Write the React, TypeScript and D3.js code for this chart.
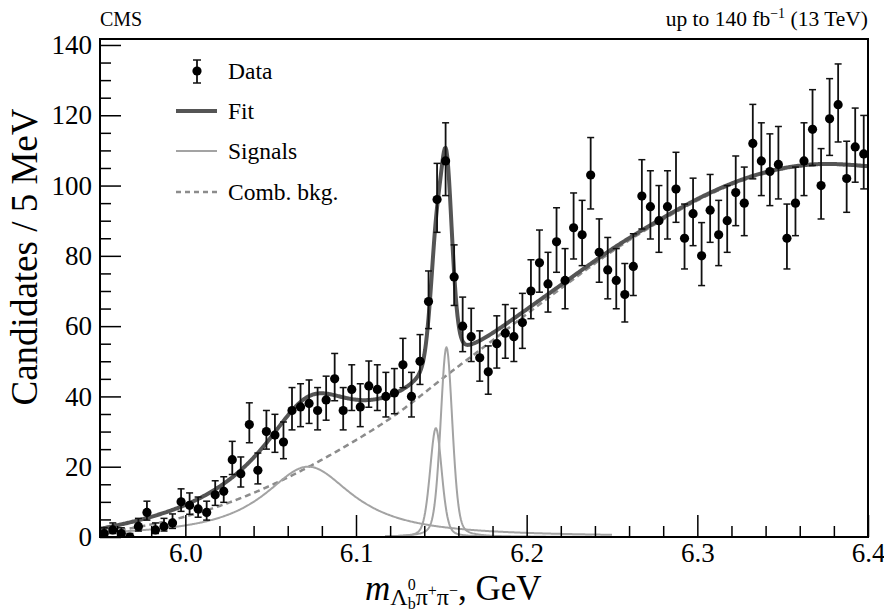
import React, { useEffect, useRef } from "react";
import * as d3 from "d3";

// histogram: 5 MeV bins starting at 5.95 GeV
const binStart = 5.95;
const binWidth = 0.005;
const counts = [
  1, 2, 1, 0, 3, 7, 2, 3, 4, 10, 9, 8, 7, 12, 13, 22, 18, 32, 19, 30, 29, 27, 36, 37, 38, 36, 39, 45, 36,
  42, 37, 43, 42, 40, 41, 49, 40, 50, 67, 96, 107, 74, 60, 57, 51, 47, 55, 58, 57, 61, 70, 78, 72, 84, 73, 88, 86, 103, 81,
  76, 73, 69, 77, 97, 94, 90, 94, 99, 85, 92, 80, 93, 86, 90, 98, 95, 112, 107, 104, 106, 85, 95, 107, 116, 100, 119, 123, 102, 111, 109,
];

// combinatorial background, read at knots every 25 MeV
const bkgMass = [5.95, 5.975, 6.0, 6.025, 6.05, 6.075, 6.1, 6.125, 6.15, 6.175, 6.2, 6.225, 6.25, 6.275, 6.3, 6.325, 6.35, 6.375, 6.4];
const bkgValue = [1.0, 3.0, 5.6, 9.5, 14.5, 20.5, 27.5, 35, 45, 54, 63.5, 72.5, 81.5, 89, 96, 101.5, 105, 106.3, 105.3];

// signal components
const sigMass = [6.072, 6.1468, 6.153];
const sigHeight = [20, 31, 54];
const sigSigma = [0, 0.0035, 0.0035];
const sigGamma = [0.032, 0.004, 0.004];
const sigLorentzFrac = [1, 0.3, 0.3];
const sigFrom = [5.95, 6.117, 6.117];
const sigTo = [6.25, 6.25, 6.25];

const xMajor = [6.0, 6.1, 6.2, 6.3, 6.4];
const yMajor = [0, 20, 40, 60, 80, 100, 120, 140];

const legendLabels = ["Data", "Fit", "Signals", "Comb. bkg."];

const FONT = "'Liberation Serif', 'Times New Roman', serif";

export default function App() {
  const ref = useRef<SVGSVGElement>(null);

  useEffect(() => {
    const width = 884;
    const height = 614;
    const margin = { top: 39, right: 16, bottom: 77, left: 100 };
    const svg = d3.select(ref.current).attr("width", width).attr("height", height);
    svg.selectAll("*").remove();

    const x = d3.scaleLinear().domain([5.95, 6.4]).range([margin.left, width - margin.right]);
    const y = d3.scaleLinear().domain([0, 141.7]).range([height - margin.bottom, margin.top]);

    const bkgInterp = d3.interpolateBasis(bkgValue);
    const bkg = (m: number) =>
      bkgInterp((m - bkgMass[0]) / (bkgMass[bkgMass.length - 1] - bkgMass[0]));
    const shape = (m: number, k: number) => {
      const d = m - sigMass[k];
      const g = sigSigma[k] > 0 ? Math.exp((-d * d) / (2 * sigSigma[k] * sigSigma[k])) : 0;
      const l = 1 / (1 + (d / sigGamma[k]) ** 2);
      const f = sigLorentzFrac[k];
      return sigHeight[k] * ((1 - f) * g + f * l);
    };
    const grid = (a: number, b: number) =>
      d3.range(0, Math.round((b - a) / 0.0005) + 1).map((i) => a + i * 0.0005);

    const line = d3
      .line<[number, number]>()
      .x((d) => x(d[0]))
      .y((d) => y(d[1]));

    svg.append("rect").attr("width", width).attr("height", height).attr("fill", "#fff");

    svg
      .append("clipPath")
      .attr("id", "plot")
      .append("rect")
      .attr("x", margin.left)
      .attr("y", margin.top)
      .attr("width", width - margin.left - margin.right)
      .attr("height", height - margin.top - margin.bottom);

    const plot = svg.append("g").attr("clip-path", "url(#plot)");

    // background (dashed)
    plot
      .append("path")
      .attr("d", line(grid(5.95, 6.4).map((m) => [m, bkg(m)])))
      .attr("fill", "none")
      .attr("stroke", "#8c8c8c")
      .attr("stroke-width", 2.5)
      .attr("stroke-dasharray", "6,4");

    // signals
    sigMass.forEach((_, k) => {
      plot
        .append("path")
        .attr("d", line(grid(sigFrom[k], sigTo[k]).map((m) => [m, shape(m, k)])))
        .attr("fill", "none")
        .attr("stroke", "#a3a3a3")
        .attr("stroke-width", 2)
        .attr("stroke-linejoin", "round");
    });

    // total fit
    plot
      .append("path")
      .attr(
        "d",
        line(
          grid(5.95, 6.4).map((m) => [m, bkg(m) + sigMass.reduce((s, _, k) => s + shape(m, k), 0)])
        )
      )
      .attr("fill", "none")
      .attr("stroke", "#555")
      .attr("stroke-width", 4)
      .attr("stroke-linejoin", "round");

    // data
    const pts = counts.map((n, i) => ({
      m: binStart + (i + 0.5) * binWidth,
      n,
      lo: Math.max(0, n - Math.sqrt(n + 0.25) + 0.5),
      hi: n + Math.sqrt(n + 0.25) + 0.5,
    }));
    const dg = plot.append("g");
    dg.selectAll(".eb")
      .data(pts)
      .join("line")
      .attr("x1", (d) => x(d.m))
      .attr("x2", (d) => x(d.m))
      .attr("y1", (d) => y(d.lo))
      .attr("y2", (d) => y(d.hi))
      .attr("stroke", "#111")
      .attr("stroke-width", 1.8);
    ["lo", "hi"].forEach((key) => {
      dg.selectAll(".cap-" + key)
        .data(pts)
        .join("line")
        .attr("x1", (d) => x(d.m) - 3.5)
        .attr("x2", (d) => x(d.m) + 3.5)
        .attr("y1", (d) => y((d as any)[key]))
        .attr("y2", (d) => y((d as any)[key]))
        .attr("stroke", "#111")
        .attr("stroke-width", 1.5);
    });
    dg.selectAll("circle")
      .data(pts)
      .join("circle")
      .attr("cx", (d) => x(d.m))
      .attr("cy", (d) => y(d.n))
      .attr("r", 4.6)
      .attr("fill", "#000");

    // axes
    const yAxis = svg
      .append("g")
      .attr("transform", `translate(${margin.left},0)`)
      .call(d3.axisLeft(y).tickValues(yMajor).tickSize(-21).tickPadding(8).tickFormat(d3.format("d")));
    svg
      .append("g")
      .attr("transform", `translate(${margin.left},0)`)
      .call(
        d3
          .axisLeft(y)
          .tickValues(d3.range(5, 141, 5).filter((v) => v % 20 !== 0))
          .tickSize(-11)
          .tickFormat(() => "")
      );
    const xAxis = svg
      .append("g")
      .attr("transform", `translate(0,${height - margin.bottom})`)
      .call(d3.axisBottom(x).tickValues(xMajor).tickSize(-22).tickPadding(6).tickFormat(d3.format(".1f")));
    svg
      .append("g")
      .attr("transform", `translate(0,${height - margin.bottom})`)
      .call(
        d3
          .axisBottom(x)
          .tickValues(d3.range(5.96, 6.4, 0.02).filter((v) => Math.abs(v * 10 - Math.round(v * 10)) > 0.01))
          .tickSize(-11)
          .tickFormat(() => "")
      );
    svg.selectAll(".domain").remove();
    svg.selectAll(".tick line").attr("stroke", "#000").attr("stroke-width", 1.5);
    [yAxis, xAxis].forEach((a) =>
      a.selectAll("text").attr("font-family", FONT).attr("font-size", 27).attr("fill", "#000")
    );

    // frame
    svg
      .append("rect")
      .attr("x", margin.left)
      .attr("y", margin.top)
      .attr("width", width - margin.left - margin.right)
      .attr("height", height - margin.top - margin.bottom)
      .attr("fill", "none")
      .attr("stroke", "#000")
      .attr("stroke-width", 2);

    // titles
    svg
      .append("text")
      .attr("transform", `translate(37, 257) rotate(-90)`)
      .attr("text-anchor", "middle")
      .attr("font-family", FONT)
      .attr("font-size", 37)
      .text("Candidates / 5 MeV");

    const xt = svg
      .append("text")
      .attr("x", 365)
      .attr("y", 600)
      .attr("font-family", FONT)
      .attr("font-size", 35);
    xt.append("tspan").attr("font-style", "italic").text("m");
    xt.append("tspan").attr("font-size", 24).attr("dy", 5).text("Λ");
    xt.append("tspan").attr("font-size", 16).attr("dy", 4).text("b");
    xt.append("tspan").attr("font-size", 16).attr("dx", -8).attr("dy", -19).text("0");
    xt.append("tspan").attr("font-size", 24).attr("dy", 15).text("π");
    xt.append("tspan").attr("font-size", 16).attr("dy", -9).text("+");
    xt.append("tspan").attr("font-size", 24).attr("dy", 9).text("π");
    xt.append("tspan").attr("font-size", 16).attr("dy", -9).text("−");
    xt.append("tspan").attr("dy", 4).text(", GeV");

    svg
      .append("text")
      .attr("x", margin.left)
      .attr("y", 26)
      .attr("font-family", FONT)
      .attr("font-size", 20)
      .text("CMS");

    const lumi = svg
      .append("text")
      .attr("x", width - margin.right)
      .attr("y", 26)
      .attr("text-anchor", "end")
      .attr("font-family", FONT)
      .attr("font-size", 21.5);
    lumi.append("tspan").text("up to 140 fb");
    lumi.append("tspan").attr("font-size", 14).attr("dy", -8).text("−1");
    lumi.append("tspan").attr("dy", 8).text(" (13 TeV)");

    // legend
    const lg = svg.append("g");
    const rows = [71, 111, 151, 192];
    lg.append("line").attr("x1", 197).attr("x2", 197).attr("y1", 60).attr("y2", 83).attr("stroke", "#111").attr("stroke-width", 1.8);
    [60, 83].forEach((yy) =>
      lg.append("line").attr("x1", 193).attr("x2", 201).attr("y1", yy).attr("y2", yy).attr("stroke", "#111").attr("stroke-width", 1.5)
    );
    lg.append("circle").attr("cx", 197).attr("cy", rows[0]).attr("r", 4.6).attr("fill", "#000");
    lg.append("line").attr("x1", 176).attr("x2", 217).attr("y1", rows[1]).attr("y2", rows[1]).attr("stroke", "#555").attr("stroke-width", 4);
    lg.append("line").attr("x1", 176).attr("x2", 217).attr("y1", rows[2]).attr("y2", rows[2]).attr("stroke", "#a3a3a3").attr("stroke-width", 2);
    lg.append("line").attr("x1", 176).attr("x2", 217).attr("y1", rows[3]).attr("y2", rows[3]).attr("stroke", "#8c8c8c").attr("stroke-width", 2.5).attr("stroke-dasharray", "5,4");
    legendLabels.forEach((t, i) =>
      lg
        .append("text")
        .attr("x", 228)
        .attr("y", rows[i])
        .attr("dy", "0.33em")
        .attr("font-family", FONT)
        .attr("font-size", 23.5)
        .text(t)
    );
  }, []);

  return <svg ref={ref} style={{ position: "absolute", left: 0, top: 0 }} />;
}
